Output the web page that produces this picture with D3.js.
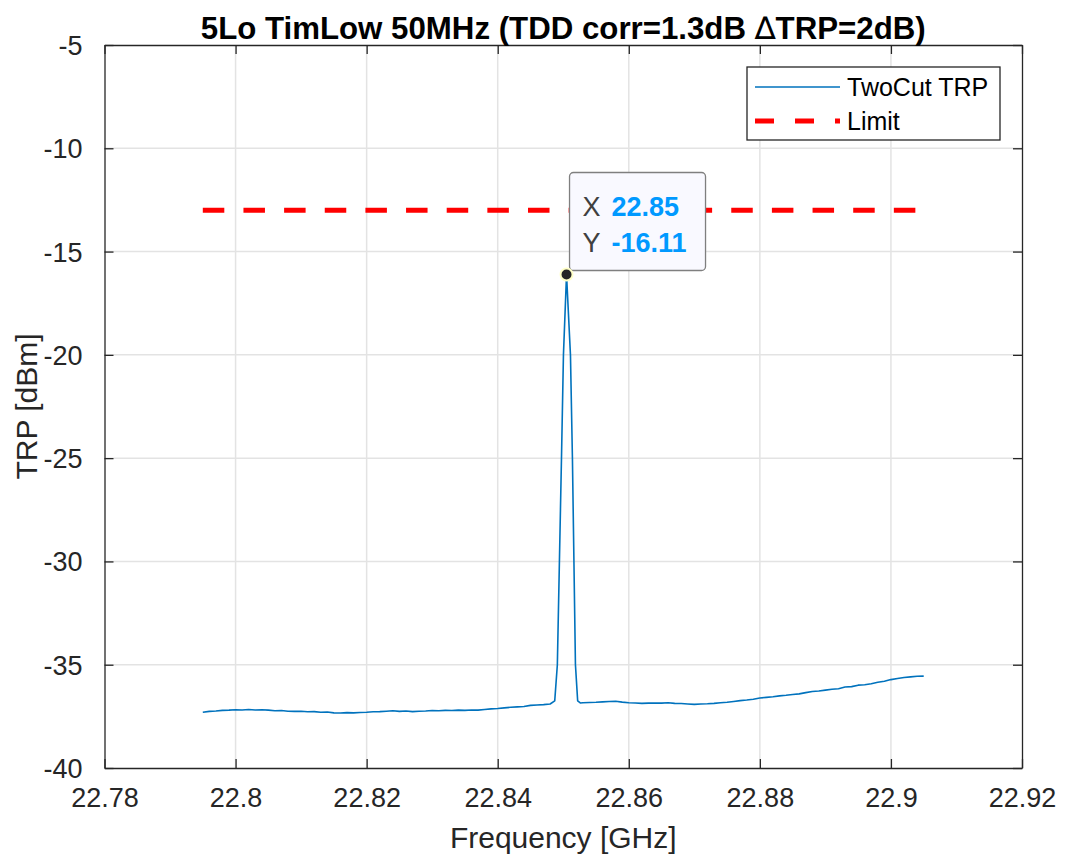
<!DOCTYPE html>
<html><head><meta charset="utf-8">
<script src="https://cdn.jsdelivr.net/npm/d3@7"></script>
<style>
html,body{margin:0;padding:0;background:#fff;}
svg text{font-family:"Liberation Sans",Arial,Helvetica,sans-serif;}
</style></head>
<body><svg id="chart" width="1065" height="862"></svg>
<script>
const titleParts = ["5Lo TimLow 50MHz (TDD corr=1.3dB ", "\u2206", "TRP=2dB)"];
const xLabel = "Frequency [GHz]";
const yLabel = "TRP [dBm]";
const xTicks = [22.78, 22.8, 22.82, 22.84, 22.86, 22.88, 22.9, 22.92];
const xTickLabels = ["22.78", "22.8", "22.82", "22.84", "22.86", "22.88", "22.9", "22.92"];
const yTicks = [-40, -35, -30, -25, -20, -15, -10, -5];
const yTickLabels = ["-40", "-35", "-30", "-25", "-20", "-15", "-10", "-5"];
const seriesNames = ["TwoCut TRP", "Limit"];

// TwoCut TRP trace (GHz, dBm)
const freqLeft = [22.795,22.796,22.797,22.798,22.799,22.800,22.801,22.802,22.803,22.804,22.805,22.806,22.807,22.808,22.809,22.810,22.811,22.812,22.813,22.814,22.815,22.816,22.817,22.818,22.819,22.820,22.821,22.822,22.823,22.824,22.825,22.826,22.827,22.828,22.829,22.830,22.831,22.832,22.833,22.834,22.835,22.836,22.837,22.838,22.839,22.840,22.841,22.842,22.843,22.844,22.845,22.846,22.847,22.848];
const trpLeft = [-37.30,-37.26,-37.24,-37.21,-37.20,-37.18,-37.19,-37.17,-37.19,-37.18,-37.20,-37.23,-37.22,-37.25,-37.26,-37.25,-37.28,-37.27,-37.30,-37.29,-37.33,-37.34,-37.32,-37.33,-37.31,-37.30,-37.28,-37.27,-37.25,-37.23,-37.26,-37.24,-37.27,-37.25,-37.24,-37.22,-37.23,-37.21,-37.22,-37.20,-37.21,-37.19,-37.20,-37.17,-37.14,-37.12,-37.09,-37.06,-37.04,-37.02,-36.97,-36.95,-36.93,-36.90];
const freqPeak = [22.8487,22.8491,22.84973,22.85003,22.8505,22.8511,22.8514,22.85186,22.8522,22.8526];
const trpPeak = [-36.75,-35.0,-25.0,-20.0,-16.11,-20.0,-25.0,-35.0,-36.75,-36.85];
const freqRight = [22.853,22.854,22.855,22.856,22.857,22.858,22.859,22.860,22.861,22.862,22.863,22.864,22.865,22.866,22.867,22.868,22.869,22.870,22.871,22.872,22.873,22.874,22.875,22.876,22.877,22.878,22.879,22.880,22.881,22.882,22.883,22.884,22.885,22.886,22.887,22.888,22.889,22.890,22.891,22.892,22.893,22.894,22.895,22.896,22.897,22.898,22.899,22.900,22.901,22.902,22.903,22.904,22.905];
const trpRight = [-36.84,-36.83,-36.82,-36.80,-36.78,-36.77,-36.81,-36.84,-36.85,-36.87,-36.86,-36.85,-36.86,-36.84,-36.87,-36.88,-36.90,-36.92,-36.90,-36.89,-36.87,-36.84,-36.82,-36.78,-36.74,-36.71,-36.67,-36.61,-36.58,-36.55,-36.51,-36.48,-36.44,-36.41,-36.35,-36.30,-36.27,-36.23,-36.19,-36.16,-36.08,-36.06,-35.99,-35.97,-35.92,-35.85,-35.80,-35.72,-35.67,-35.62,-35.59,-35.56,-35.55];

// Limit line
const limitFreq = [22.795, 22.905];
const limitVal = [-13, -13];

// Data tip
const tipX = 22.8505;
const tipXLabel = "22.85";
const tipY = -16.11;
const tipYLabel = "-16.11";

const m = {left:104.5, right:1022, top:45, bottom:768};
const svg = d3.select("#chart");
const x = d3.scaleLinear().domain([22.78, 22.92]).range([m.left, m.right]);
const y = d3.scaleLinear().domain([-40, -5]).range([m.bottom, m.top]);
const axisColor = "#262626";
const tickFont = 27;

// grid
const g = svg.append("g");
g.selectAll(".gx").data(xTicks.slice(1, -1)).join("line")
  .attr("x1", d => x(d)).attr("x2", d => x(d)).attr("y1", m.top).attr("y2", m.bottom)
  .attr("stroke", "#e3e3e3").attr("stroke-width", 1.5);
g.selectAll(".gy").data(yTicks.slice(1, -1)).join("line")
  .attr("y1", d => y(d)).attr("y2", d => y(d)).attr("x1", m.left).attr("x2", m.right)
  .attr("stroke", "#e3e3e3").attr("stroke-width", 1.5);

// data
const trace = freqLeft.map((f, i) => [f, trpLeft[i]])
  .concat(freqPeak.map((f, i) => [f, trpPeak[i]]))
  .concat(freqRight.map((f, i) => [f, trpRight[i]]));
const line = d3.line().x(d => x(d[0])).y(d => y(d[1]));
svg.append("path").datum(trace).attr("d", line)
  .attr("fill", "none").attr("stroke", "#0072BD").attr("stroke-width", 1.6).attr("stroke-linejoin", "round");
svg.append("path").datum(limitFreq.map((f, i) => [f, limitVal[i]])).attr("d", line)
  .attr("fill", "none").attr("stroke", "#FF0000").attr("stroke-width", 5).attr("stroke-dasharray", "21.5,19.15");

// axes (MATLAB style: box, inward ticks)
const tl = 9;
const xb = svg.append("g").attr("transform", `translate(0,${m.bottom})`)
  .call(d3.axisBottom(x).tickValues(xTicks).tickFormat((d, i) => xTickLabels[i]).tickSizeInner(-tl).tickSizeOuter(0).tickPadding(20));
const xt = svg.append("g").attr("transform", `translate(0,${m.top})`)
  .call(d3.axisTop(x).tickValues(xTicks).tickFormat("").tickSizeInner(-tl).tickSizeOuter(0));
const yl = svg.append("g").attr("transform", `translate(${m.left},0)`)
  .call(d3.axisLeft(y).tickValues(yTicks).tickFormat((d, i) => yTickLabels[i]).tickSizeInner(-tl).tickSizeOuter(0).tickPadding(22));
const yr = svg.append("g").attr("transform", `translate(${m.right},0)`)
  .call(d3.axisRight(y).tickValues(yTicks).tickFormat("").tickSizeInner(-tl).tickSizeOuter(0));
[xb, xt, yl, yr].forEach(a => {
  a.select(".domain").attr("stroke", axisColor).attr("stroke-width", 1.3);
  a.selectAll(".tick line").attr("stroke", axisColor).attr("stroke-width", 1.3);
  a.selectAll(".tick text").attr("fill", axisColor).style("font-size", tickFont + "px")
    .style("font-family", '"Liberation Sans",Arial,sans-serif');
});
xb.selectAll(".tick text").attr("dy", "0.71em");
yl.selectAll(".tick text").attr("dy", "0.35em");

// axis labels
svg.append("text").attr("x", (m.left + m.right) / 2).attr("y", 848).attr("text-anchor", "middle")
  .attr("fill", axisColor).style("font-size", "30px").text(xLabel);
svg.append("text").attr("transform", `translate(37,${(m.top + m.bottom) / 2}) rotate(-90)`).attr("text-anchor", "middle")
  .attr("fill", axisColor).style("font-size", "30px").text(yLabel);

// title
const tt = svg.append("text").attr("x", (m.left + m.right) / 2).attr("y", 39).attr("text-anchor", "middle")
  .attr("fill", "#000").style("font-size", "27px").style("font-weight", "bold");
tt.append("tspan").text(titleParts[0]);
tt.append("tspan").style("font-weight", "normal").style("font-family", '"DejaVu Sans",sans-serif').text(titleParts[1]);
tt.append("tspan").text(titleParts[2]);
const tw = tt.node().getComputedTextLength();
tt.style("font-size", (27 * 725 / tw).toFixed(2) + "px");

// legend
const lg = svg.append("g");
lg.append("rect").attr("x", 747).attr("y", 67).attr("width", 253).attr("height", 73)
  .attr("fill", "#fff").attr("stroke", axisColor).attr("stroke-width", 1.3);
lg.append("line").attr("x1", 755).attr("x2", 840).attr("y1", 87).attr("y2", 87)
  .attr("stroke", "#0072BD").attr("stroke-width", 1.6);
lg.append("line").attr("x1", 755).attr("x2", 840).attr("y1", 121).attr("y2", 121)
  .attr("stroke", "#FF0000").attr("stroke-width", 5).attr("stroke-dasharray", "19,21");
lg.append("text").attr("x", 847).attr("y", 96).attr("fill", "#000").style("font-size", "25px").text(seriesNames[0]);
lg.append("text").attr("x", 847).attr("y", 130).attr("fill", "#000").style("font-size", "25px").text(seriesNames[1]);

// data tip
const px = x(tipX), py = y(tipY);
const tip = svg.append("g");
tip.append("rect").attr("x", px + 3).attr("y", py - 102).attr("width", 136).attr("height", 98)
  .attr("rx", 4).attr("fill", "#f9f9ff").attr("stroke", "#7f7f7f").attr("stroke-width", 1.3);
tip.append("text").attr("x", px + 16).attr("y", py - 59).attr("fill", "#404040").style("font-size", "27px").text("X");
tip.append("text").attr("x", px + 45).attr("y", py - 59).attr("fill", "#0099FF").style("font-size", "27px").style("font-weight", "bold").text(tipXLabel);
tip.append("text").attr("x", px + 16).attr("y", py - 23).attr("fill", "#404040").style("font-size", "27px").text("Y");
tip.append("text").attr("x", px + 45).attr("y", py - 23).attr("fill", "#0099FF").style("font-size", "27px").style("font-weight", "bold").text(tipYLabel);
tip.append("circle").attr("cx", px).attr("cy", py).attr("r", 6)
  .attr("fill", "#262626").attr("stroke", "#ffffc8").attr("stroke-width", 2);
</script></body></html>
